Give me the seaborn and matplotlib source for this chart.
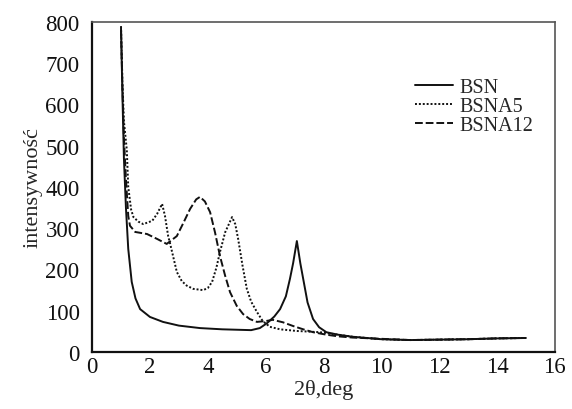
import pandas as pd
import matplotlib.pyplot as plt
import seaborn as sns

# values
bsn_x = [1.0, 1.05, 1.1, 1.17, 1.25, 1.37, 1.5, 1.66, 2.0, 2.45, 3.0, 3.73, 4.5, 5.0, 5.5, 5.8,
         6.05, 6.3, 6.5, 6.7, 6.84, 6.95, 7.08, 7.2, 7.3, 7.45, 7.64, 7.85, 8.1, 8.5, 9.0, 10.0,
         11.0, 12.0, 13.0, 14.0, 15.0]
bsn_y = [785, 620, 470, 350, 250, 170, 130, 104, 85, 73, 64, 58, 55, 54, 53, 58,
         70, 86, 104, 135, 177, 215, 269, 215, 177, 120, 80, 60, 48, 42, 37, 31,
         29, 30, 31, 33, 34]

bsna5_x = [1.0, 1.05, 1.1, 1.2, 1.25, 1.35, 1.43, 1.6, 1.77, 2.08, 2.25, 2.42, 2.52, 2.63, 2.7,
           2.93, 3.1, 3.27, 3.5, 3.84, 4.0, 4.15, 4.3, 4.42, 4.6, 4.84, 4.95, 5.05, 5.2, 5.35,
           5.5, 5.7, 5.9, 6.15, 6.5, 7.08, 7.88, 8.5, 9.0, 10.0, 11.0, 12.0, 13.0, 14.0, 15.0]
bsna5_y = [790, 650, 560, 490, 400, 345, 327, 316, 310, 318, 335, 359, 330, 281, 262,
           194, 172, 161, 153, 150, 155, 170, 205, 242, 290, 327, 310, 274, 210, 153,
           122, 97, 75, 61, 55, 51, 48, 42, 37, 31, 29, 30, 31, 33, 34]

bsna12_x = [1.0, 1.05, 1.1, 1.17, 1.25, 1.31, 1.49, 1.9, 2.25, 2.58, 2.93, 3.15, 3.39, 3.6,
            3.73, 3.9, 4.08, 4.25, 4.42, 4.6, 4.77, 5.0, 5.22, 5.45, 5.7, 6.0, 6.25, 6.6,
            6.95, 7.3, 7.64, 8.1, 8.5, 9.0, 10.0, 11.0, 12.0, 13.0, 14.0, 15.0]
bsna12_y = [780, 640, 520, 420, 330, 306, 291, 286, 274, 262, 281, 312, 347, 370,
            376, 365, 339, 290, 233, 185, 145, 112, 92, 80, 73, 75, 78, 72,
            63, 55, 48, 42, 38, 35, 32, 29, 30, 31, 33, 34]

df = pd.concat([
    pd.DataFrame({"x": bsn_x, "y": bsn_y, "sample": "BSN"}),
    pd.DataFrame({"x": bsna5_x, "y": bsna5_y, "sample": "BSNA5"}),
    pd.DataFrame({"x": bsna12_x, "y": bsna12_y, "sample": "BSNA12"}),
])

sns.set_style("white")
plt.rcParams["font.family"] = ["Liberation Serif", "DejaVu Serif"]

fig = plt.figure(figsize=(5.72, 4.10), dpi=100)
ax = fig.add_axes([0.161, 0.139, 0.809, 0.805])
sns.lineplot(data=df, x="x", y="y", hue="sample", style="sample",
             palette=["#111111"] * 3,
             dashes={"BSN": "", "BSNA5": (1, 1), "BSNA12": (4, 1.5)},
             linewidth=1.4, sort=False, estimator=None, ax=ax)

ax.set_xlim(0, 16)
ax.set_ylim(0, 800)
ax.set_xticks(range(0, 17, 2))
ax.set_yticks(range(0, 801, 100))
ax.tick_params(axis="x", direction="in", length=6, width=1.2, labelsize=16.5, pad=3, colors="#111111")
ax.tick_params(axis="y", direction="out", length=7, width=1.2, labelsize=16.5, pad=2, colors="#111111")
ax.set_xlabel("2θ,deg", fontsize=16, labelpad=1)
ax.set_ylabel("intensywność", fontsize=16, labelpad=2)

for s in ["left", "bottom"]:
    ax.spines[s].set_color("#111111")
    ax.spines[s].set_linewidth(1.6)
for s in ["top", "right"]:
    ax.spines[s].set_color("#555555")
    ax.spines[s].set_linewidth(1.2)

ax.legend(title=None, frameon=False, fontsize=14.5, loc="upper left",
          bbox_to_anchor=(0.675, 0.86), handlelength=1.9, handletextpad=0.35,
          labelspacing=-0.02, borderpad=0)

fig.savefig("out.png", dpi=100)
